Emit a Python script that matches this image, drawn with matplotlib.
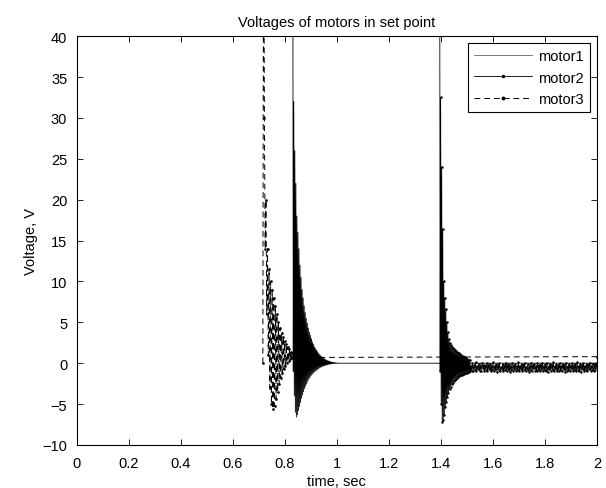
import numpy as np
import matplotlib
matplotlib.use("Agg")
import matplotlib.pyplot as plt

plt.rcParams['font.family'] = ['Liberation Sans', 'DejaVu Sans']

# начало переходного процесса каждого мотора, сек
m1_start = 0.83
m2_start = 1.395
m3_start = 0.715
t_end = 2.0

# motor1: пики и провалы колебаний после включения
m1_upper = [62, 32, 26, 22, 18, 16, 14, 12, 10.5, 9, 8, 7, 6.2, 5.5, 4.9, 4.3,
            3.8, 3.4, 3.0, 2.6, 2.3, 2.0, 1.8, 1.6, 1.4, 1.2, 1.05, 0.9, 0.8,
            0.7, 0.6, 0.5, 0.42, 0.35, 0.3, 0.25, 0.2, 0.16, 0.13, 0.1, 0.08,
            0.06, 0.04, 0.02, 0.0]
m1_lower = [-1, -4, -6, -6.6, -6.3, -5.8, -5.3, -4.8, -4.3, -3.9, -3.5, -3.1, -2.8,
            -2.5, -2.2, -1.95, -1.75, -1.55, -1.4, -1.25, -1.1, -1.0, -0.9, -0.8,
            -0.7, -0.6, -0.52, -0.45, -0.4, -0.35, -0.3, -0.26, -0.22, -0.18,
            -0.15, -0.12, -0.1, -0.08, -0.06, -0.05, -0.04, -0.03, -0.02, -0.01, 0.0]
m1_final = 0.0

# motor2
m2_upper = [62, 32.5, 24, 16.4, 10, 8, 6.6, 5, 3.8, 2.9, 2.5, 2.2, 2.0, 1.8, 1.7,
            1.6, 1.5, 1.4, 1.3, 1.2, 1.1, 1.0, 0.9, 0.8, 0.7, 0.6, 0.5, 0.45, 0.4, 0.35]
m2_lower = [-1, -5, -7.2, -6.9, -6.3, -5.4, -4.7, -4.1, -3.6, -3.2, -2.9, -2.6,
            -2.4, -2.2, -2.0, -1.9, -1.8, -1.7, -1.6, -1.5, -1.45, -1.4, -1.35,
            -1.3, -1.25, -1.2, -1.15, -1.1, -1.05, -1.0]
# установившийся режим motor2 (шум около -0.5 В)
m2_noise = [-0.3, -0.9, 0.0, -1.0, -0.2, -0.8, 0.1, -1.0, -0.4, -0.7, -0.1, -0.9,
            -0.3, -1.0, 0.05, -0.6, -0.2, -1.0, -0.35, -0.8, 0.0, -0.95, -0.25,
            -0.7, -0.05, -1.0, -0.4, -0.85, 0.1, -0.9, -0.3, -0.75, -0.15, -1.1,
            -0.2, -0.8, 0.0, -0.9, -0.45, -0.7, -0.1, -1.0, -0.3, -0.85, 0.05,
            -0.95, -0.2, -0.75, -0.1, -1.05, -0.35, -0.8, 0.0, -0.9, -0.25, -0.7,
            -0.05, -1.0, -0.4, -0.85, 0.1, -0.95, -0.3, -0.75, -0.15, -1.0, -0.2,
            -0.8, 0.0, -0.9, -0.45, -0.7, -0.1, -1.05, -0.3, -0.85, 0.05, -0.95,
            -0.2, -0.6, -0.1, -0.9, -0.35, -1.0, 0.0, -0.8, -0.25, -0.95, -0.1,
            -0.7, 0.05, -1.0, -0.3, -0.85, -0.15, -0.9, 0.0, -1.05, -0.4, -0.75,
            -0.05, -0.95, -0.2, -0.8, 0.1, -1.0, -0.35, -0.7, -0.1, -0.9, -0.25,
            -1.0, 0.0, -0.85, -0.3, -0.95, -0.05, -0.75, -0.2, -1.05, 0.05, -0.9,
            -0.4, -0.8, -0.1, -1.0, -0.3, -0.7, 0.0, -0.95, -0.25, -0.85, -0.15,
            -1.0, 0.1, -0.8, -0.35, -0.9, -0.05, -1.05, -0.2, -0.75, 0.0, -0.95,
            -0.3, -0.85, -0.1, -1.0, -0.25, -0.7, 0.05, -0.9, -0.4, -0.8, -0.1,
            -1.0, -0.2, -0.85, 0.0, -0.6]

# motor3
m3_rise = [0, 62]
m3_upper = [30, 20, 14, 11.5, 10, 9, 8, 7, 6, 5, 4.3, 3.7, 3.2, 2.7, 2.3, 2.0,
            1.7, 1.4, 1.2]
m3_lower = [14, 6, 1, -3, -5, -5.6, -5.2, -4.4, -3.5, -2.6, -1.8, -1.2, -0.7,
            -0.3, 0.0, 0.3, 0.5, 0.6, 0.7]
m3_final = 0.8

dt = 0.002
dt3 = 0.003

# motor1
v1 = np.ravel(np.column_stack([m1_upper, m1_lower]))
t1 = m1_start + dt * np.arange(len(v1))
t1 = np.append(t1, t_end)
v1 = np.append(v1, m1_final)

# motor2
b2 = np.ravel(np.column_stack([m2_upper, m2_lower]))
tb2 = m2_start + dt * np.arange(len(b2))
tn2 = np.linspace(tb2[-1] + dt, t_end, len(m2_noise))
t2 = np.concatenate([tb2, tn2])
v2 = np.concatenate([b2, m2_noise])

# motor3
v3 = np.concatenate([m3_rise, np.ravel(np.column_stack([m3_upper, m3_lower]))])
t3 = m3_start + dt3 * np.arange(len(v3))
t3 = np.append(t3, t_end)
v3 = np.append(v3, m3_final)

fig = plt.figure(figsize=(6.06, 4.89), dpi=100)
ax = fig.add_axes([0.127, 0.088, 0.858, 0.836])
ax.set_title("Voltages of motors in set point", fontsize=10.5, pad=7)

ax.plot(t1, v1, '-', color='k', lw=0.6, label='motor1')
ax.plot(t2, v2, '.-', color='k', lw=0.6, ms=1.5, label='motor2')
ax.plot(t3, v3, '.--', color='k', lw=0.7, ms=1.8, dashes=(6, 4), label='motor3')

ax.set_xlim(0, 2)
ax.set_ylim(-10, 40)
ax.set_xticks(np.arange(0, 2.01, 0.2))
ax.set_xticklabels(['0', '0.2', '0.4', '0.6', '0.8', '1', '1.2', '1.4', '1.6', '1.8', '2'])
ax.set_yticks(range(-10, 41, 5))
ax.tick_params(direction='in', top=True, right=True, length=4, labelsize=10.5, width=0.6)
ax.tick_params(axis='x', pad=8)
ax.tick_params(axis='y', pad=7)
for s in ax.spines.values():
    s.set_linewidth(0.8)
ax.set_xlabel("time, sec", fontsize=10.5, labelpad=3)
ax.set_ylabel("Voltage, V", fontsize=10.5, labelpad=3)

leg = ax.legend(loc='upper right', numpoints=1, fancybox=False, fontsize=10.5,
                edgecolor='k', framealpha=1, borderaxespad=0.5, handlelength=4,
                handletextpad=0.4, markerscale=2)
leg.get_frame().set_linewidth(0.8)
leg.get_lines()[0].set_color('0.4')

plt.savefig("out.png", dpi=100)
